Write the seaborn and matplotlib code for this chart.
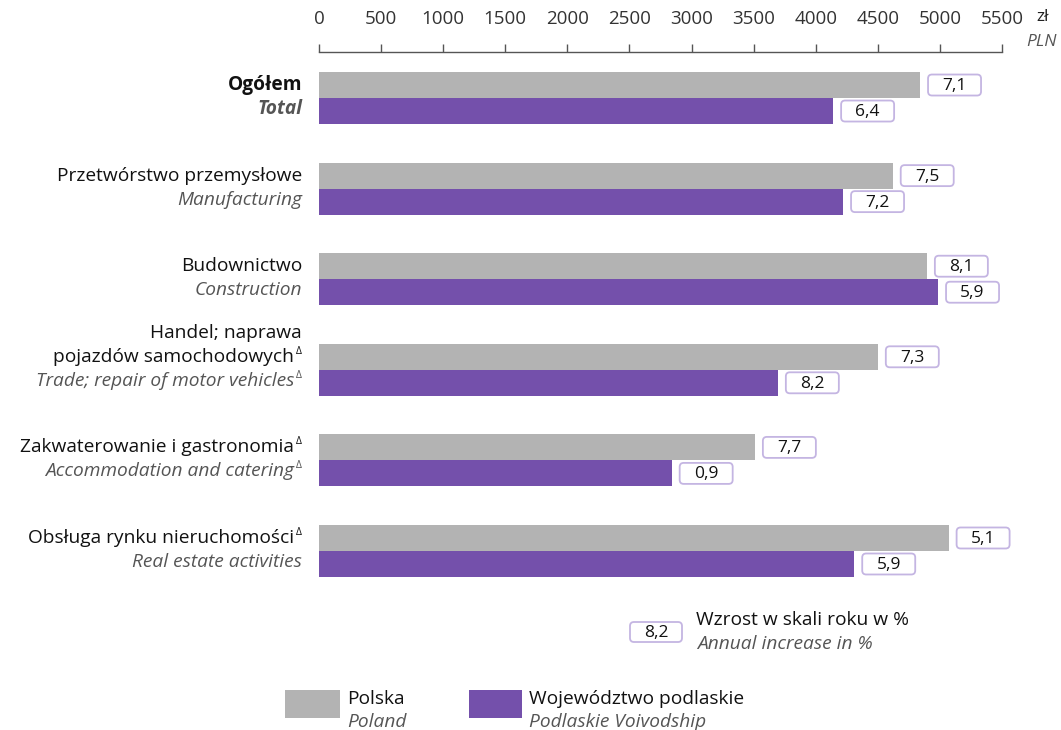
import numpy as np
import pandas as pd
import matplotlib
matplotlib.use("Agg")
import matplotlib.pyplot as plt
from matplotlib.patches import FancyBboxPatch, Rectangle
from matplotlib.transforms import IdentityTransform
import seaborn as sns

# data
labels_pl = ["Ogółem", "Przetwórstwo przemysłowe", "Budownictwo",
             "Handel; naprawa\npojazdów samochodowych",
             "Zakwaterowanie i gastronomia", "Obsługa rynku nieruchomości"]
labels_en = ["Total", "Manufacturing", "Construction",
             "Trade; repair of motor vehicles", "Accommodation and catering",
             "Real estate activities"]
delta_pl = [False, False, False, True, True, True]
delta_en = [False, False, False, True, True, False]
regions = ["Polska", "Województwo podlaskie"]
regions_en = ["Poland", "Podlaskie Voivodship"]
wages_pl = [4840, 4620, 4895, 4500, 3510, 5070]
wages_podl = [4140, 4220, 4985, 3695, 2840, 4310]
growth_pl = [7.1, 7.5, 8.1, 7.3, 7.7, 5.1]
growth_podl = [6.4, 7.2, 5.9, 8.2, 0.9, 5.9]
x_ticks = list(range(0, 5501, 500))

GRAY = "#b3b3b3"
PURPLE = "#7450ab"
BOX_EDGE = "#c4b5e2"
EN_COLOR = "#555555"
FS = 13.8

sns.set_theme(style="white")
plt.rcParams["font.family"] = ["Open Sans", "DejaVu Sans"]

W, H = 1061, 730
fig = plt.figure(figsize=(W / 100, H / 100), dpi=100)
ax = fig.add_axes([319 / W, 1 - 600 / H, 683 / W, (600 - 52) / H])

df = pd.DataFrame({
    "category": labels_en * 2,
    "region": [regions[0]] * 6 + [regions[1]] * 6,
    "value": wages_pl + wages_podl,
})
sns.barplot(data=df, x="value", y="category", hue="region", orient="h",
            palette=[GRAY, PURPLE], saturation=1, width=0.574, linewidth=0,
            legend=False, ax=ax, errorbar=None)

ax.set_xlim(0, 5500)
ax.set_ylim(5.541, -0.508)
ax.set_xlabel("")
ax.set_ylabel("")
ax.set_yticks([])
ax.xaxis.tick_top()
ax.set_xticks(x_ticks)
ax.set_xticklabels([str(t) for t in x_ticks])
ax.tick_params(axis="x", direction="out", length=6, width=1, color="#555555",
               pad=11, labelsize=13.5, labelcolor="#333333")
for side in ["bottom", "left", "right"]:
    ax.spines[side].set_visible(False)
ax.spines["top"].set_color("#555555")
ax.spines["top"].set_linewidth(1)

fig.canvas.draw()
ident = IdentityTransform()


def px_text(x, y, s, **kw):
    fig.text(x / W, 1 - y / H, s, **kw)


def px_box(x, y, w, h, text):
    # x, y = top-left corner in image pixels
    box = FancyBboxPatch((x, H - y - h), w, h,
                         boxstyle="round,pad=0,rounding_size=4",
                         fc="white", ec=BOX_EDGE, lw=1.3, transform=ident)
    fig.add_artist(box)
    px_text(x + w / 2, y + h / 2 + 1, text, ha="center", va="center",
            fontsize=12.5, color="#111111")


def fmt(v):
    return f"{v:.1f}".replace(".", ",")


# value boxes next to every bar
growth = [growth_pl, growth_podl]
for k, cont in enumerate(ax.containers):
    for i, bar in enumerate(cont):
        end = bar.get_x() + bar.get_width()
        yc = bar.get_y() + bar.get_height() / 2
        dx, dy = ax.transData.transform((end, yc))
        px_box(dx + 8, H - dy - 10.5, 53, 21, fmt(growth[k][i]))

# category labels on the left
x_right = 302
for i in range(len(labels_pl)):
    _, cy = ax.transData.transform((0, i))
    cy = H - cy
    lines = labels_pl[i].split("\n")
    base = cy - 8
    for j, line in enumerate(lines):
        by = base - 24 * (len(lines) - 1 - j)
        last = j == len(lines) - 1
        off = 8 if (last and delta_pl[i]) else 0
        px_text(x_right - off, by, line, ha="right", va="baseline",
                fontsize=FS, color="#111111",
                fontweight="bold" if i == 0 else "normal")
        if last and delta_pl[i]:
            px_text(x_right, by - 8, "Δ", ha="right", va="baseline",
                    fontsize=7.5, color="#111111")
    ey = cy + 16
    off = 8 if delta_en[i] else 0
    px_text(x_right - off, ey, labels_en[i], ha="right", va="baseline",
            fontsize=FS, color=EN_COLOR, style="italic",
            fontweight="bold" if i == 0 else "normal")
    if delta_en[i]:
        px_text(x_right, ey - 8, "Δ", ha="right", va="baseline",
                fontsize=7.5, color=EN_COLOR)

# unit label
px_text(1036, 21, "zł", ha="left", va="baseline", fontsize=12.5, color="#222222")
px_text(1026, 46, "PLN", ha="left", va="baseline", fontsize=12.5,
        color=EN_COLOR, style="italic")

# growth legend
px_box(630, 622, 52, 20, "8,2")
px_text(696, 625, "Wzrost w skali roku w %", ha="left", va="baseline",
        fontsize=FS, color="#111111")
px_text(697, 649, "Annual increase in %", ha="left", va="baseline",
        fontsize=FS, color=EN_COLOR, style="italic")

# series legend
for x0, w0, col, pl, en in [(285, 55, GRAY, regions[0], regions_en[0]),
                            (469, 53, PURPLE, regions[1], regions_en[1])]:
    fig.add_artist(Rectangle((x0, H - 718), w0, 28, fc=col, ec="none",
                             transform=ident))
    px_text(x0 + w0 + 7, 704, pl, ha="left", va="baseline", fontsize=FS,
            color="#111111")
    px_text(x0 + w0 + 7, 727, en, ha="left", va="baseline", fontsize=FS,
            color=EN_COLOR, style="italic")

fig.savefig("out.png", dpi=100)
